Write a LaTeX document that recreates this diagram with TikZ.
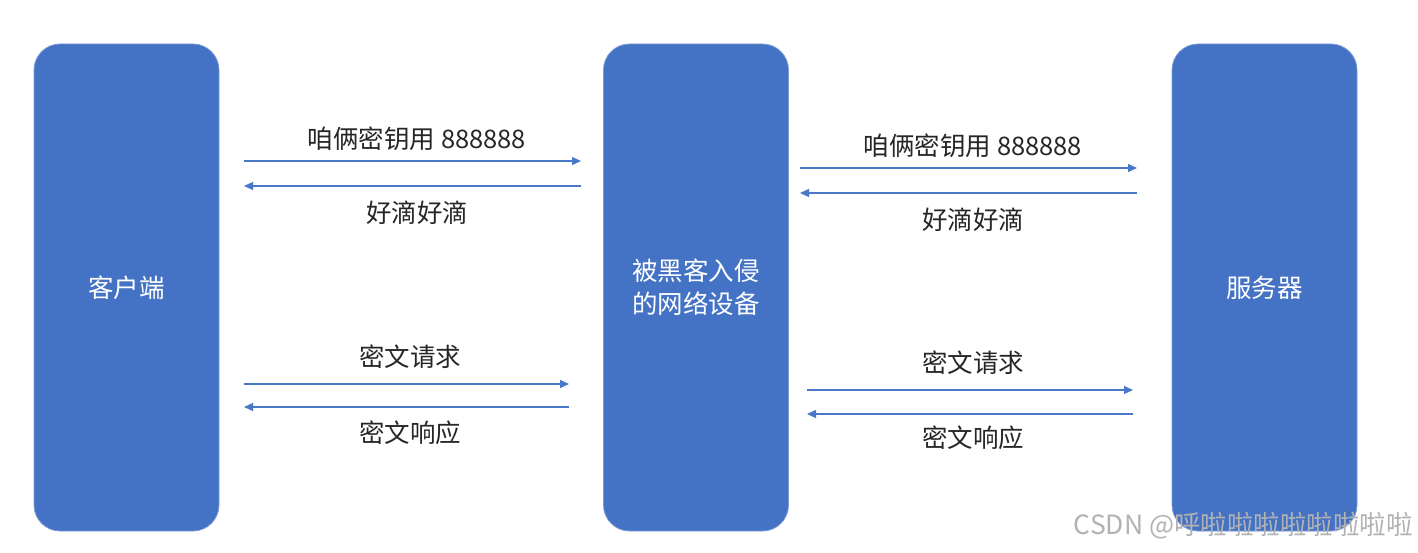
\documentclass[tikz,border=0pt]{standalone}
\usepackage{fontspec}
\setmainfont{Noto Sans CJK SC}
\newfontfamily\cjk{Noto Sans CJK SC}
\usetikzlibrary{arrows.meta}
\definecolor{boxblue}{HTML}{4472C4}
\definecolor{arrblue}{HTML}{4A78C8}
\tikzset{
  box/.style={fill=boxblue, draw=boxblue!70!white, line width=0.8pt, rounded corners=26pt, minimum width=185pt, minimum height=487pt, text=white, font=\cjk\fontsize{25.5}{33}\selectfont, align=center, inner sep=0pt},
  msg/.style={draw=arrblue, line width=1.2pt, -{Triangle[length=9pt,width=8pt]}},
  lbl/.style={font=\cjk\fontsize{25.5}{30}\selectfont, text=black!85, inner sep=0pt},
  wm/.style={font=\fontsize{26.5}{30}\selectfont, text=black!30, inner sep=0pt, anchor=east}
}
\begin{document}
\begin{tikzpicture}[x=1pt,y=-1pt]
\useasboundingbox (0,0) rectangle (1418,553);
\node[box] (client) at (126.5,287.5) {客户端};
\node[box] (mid) at (696,287.5) {被黑客入侵\\的网络设备};
\node[box] (server) at (1264.5,287.5) {服务器};

% left upper
\coordinate (a1s) at (244,161); \coordinate (a1e) at (581,161);
\coordinate (a2s) at (581,186); \coordinate (a2e) at (244,186);
\draw[msg] (a1s) -- (a1e);
\draw[msg] (a2s) -- (a2e);
\node[lbl] (t1) at (417,139) {咱俩密钥用 888888};
\node[lbl] (t2) at (417,213) {好滴好滴};

% left lower
\coordinate (b1s) at (244,384); \coordinate (b1e) at (569,384);
\coordinate (b2s) at (569,407); \coordinate (b2e) at (244,407);
\draw[msg] (b1s) -- (b1e);
\draw[msg] (b2s) -- (b2e);
\node[lbl] (t3) at (410,357) {密文请求};
\node[lbl] (t4) at (410,433) {密文响应};

% right upper
\coordinate (c1s) at (800,168); \coordinate (c1e) at (1137,168);
\coordinate (c2s) at (1137,193); \coordinate (c2e) at (800,193);
\draw[msg] (c1s) -- (c1e);
\draw[msg] (c2s) -- (c2e);
\node[lbl] (t5) at (973,146) {咱俩密钥用 888888};
\node[lbl] (t6) at (973,220) {好滴好滴};

% right lower
\coordinate (d1s) at (807,390); \coordinate (d1e) at (1133,390);
\coordinate (d2s) at (1133,414); \coordinate (d2e) at (807,414);
\draw[msg] (d1s) -- (d1e);
\draw[msg] (d2s) -- (d2e);
\node[lbl] (t7) at (973,363) {密文请求};
\node[lbl] (t8) at (973,438) {密文响应};

\node[wm] (wmk) at (1413,526) {CSDN @呼啦啦啦啦啦啦啦啦};
\end{tikzpicture}
\end{document}
